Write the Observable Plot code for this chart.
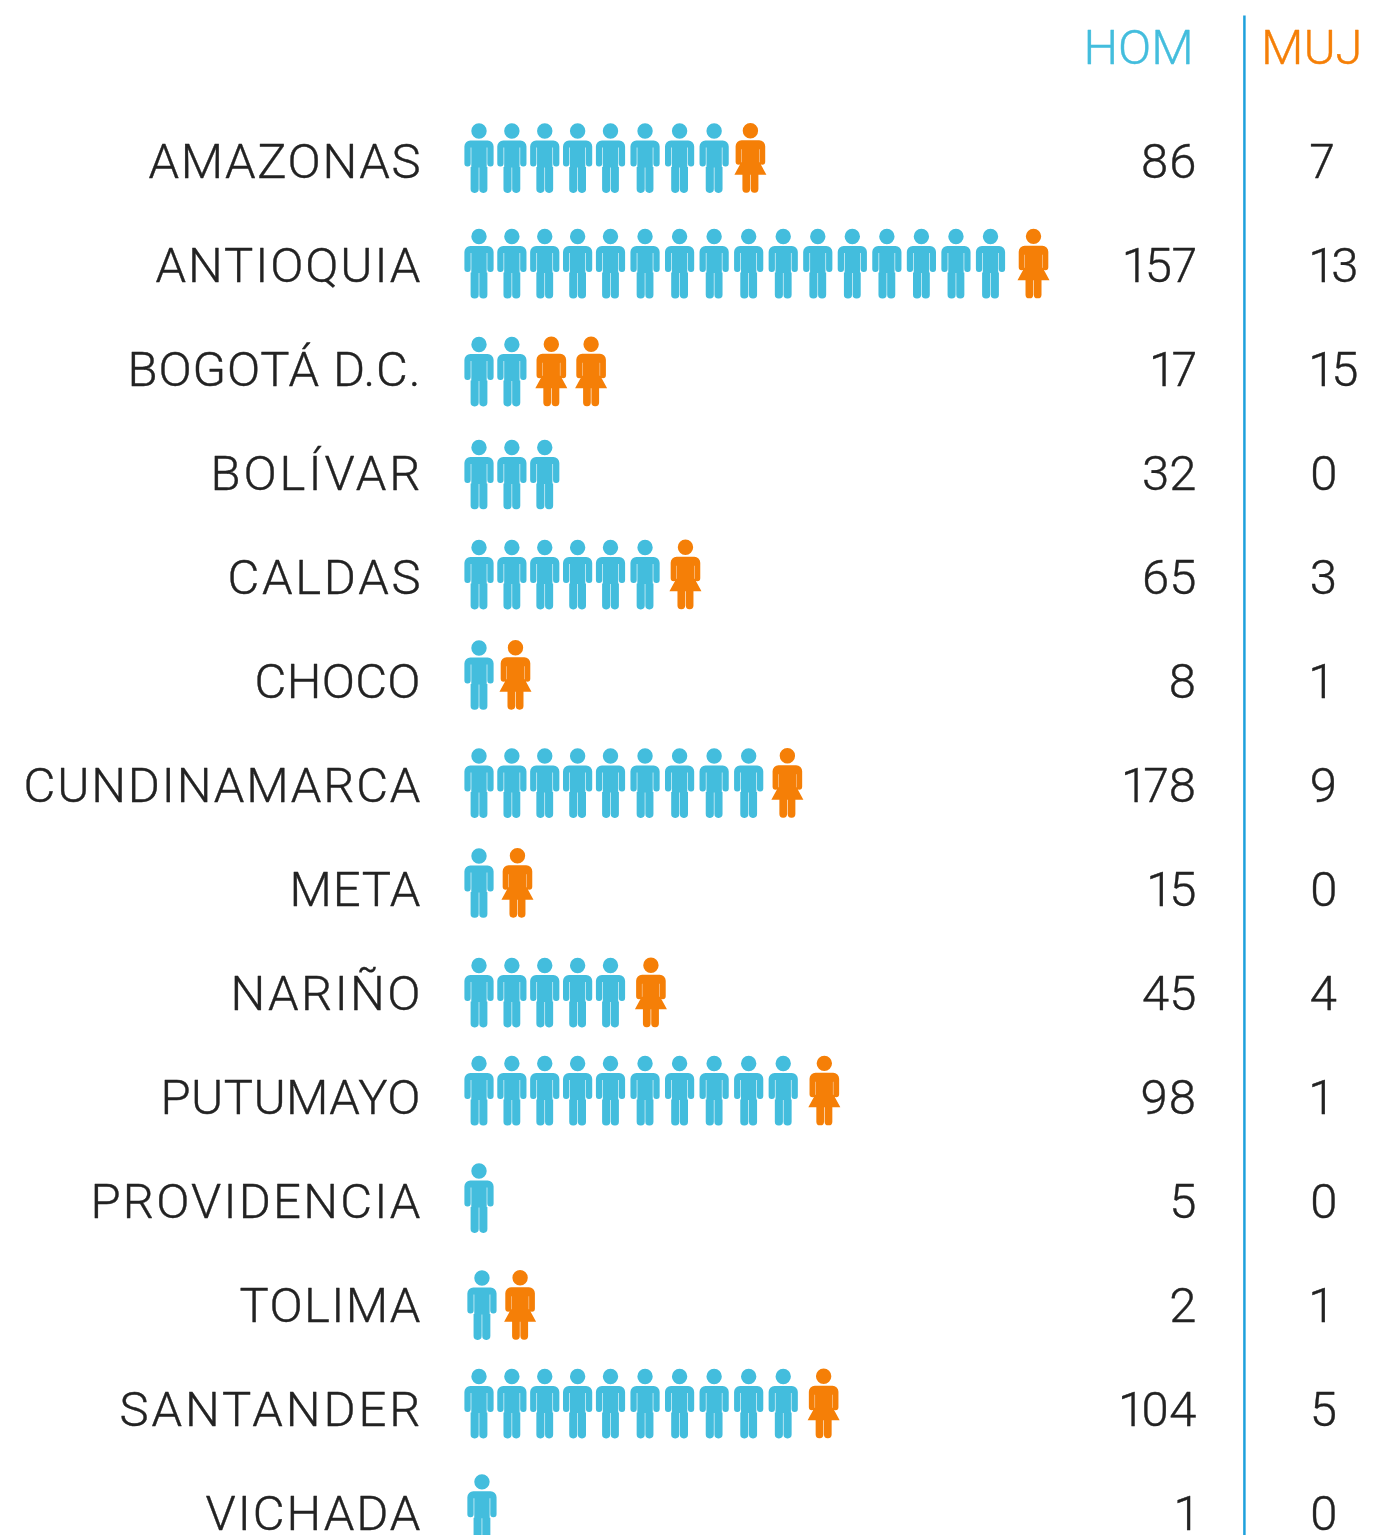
<!DOCTYPE html>
<html>
<head>
<meta charset="utf-8">
<style>html,body{margin:0;padding:0;background:#fff;overflow:hidden}svg{display:block}</style>
<script src="https://cdn.jsdelivr.net/npm/d3@7"></script>
<script src="https://cdn.jsdelivr.net/npm/@observablehq/plot@0.6"></script>
</head>
<body>
<div id="chart"></div>
<script>
const departments = ["AMAZONAS","ANTIOQUIA","BOGOTÁ D.C.","BOLÍVAR","CALDAS","CHOCO","CUNDINAMARCA","META","NARIÑO","PUTUMAYO","PROVIDENCIA","TOLIMA","SANTANDER","VICHADA"];
const hombres = [86,157,17,32,65,8,178,15,45,98,5,2,104,1];
const mujeres = [7,13,15,0,3,1,9,0,4,1,0,1,5,0];
const menIcons = [8,16,2,3,6,1,9,1,5,10,1,1,10,1];
const menShift = [0,0,0,0,0,0,0,0,0,0,0,0.09,0,0.09];
const womanSlots = [[8.05],[16.245],[2.2,3.41],[],[6.17],[1.11],[9.12],[1.17],[5.17],[10.19],[],[1.25],[10.17],[]];
const iconRows = [-0.029,0.986,2.024,3.014,3.976,4.942,5.981,6.942,7.995,8.938,9.971,11.0,11.947,12.96];
const labelWidths = [272,265,293,210,193,166,397,131,190,260,330,181,301,215];

const BLUE = "#43bddd", ORANGE = "#f57f07", INK = "#222222", RULE = "#1ea0dc";
const FONT = "Roboto, sans-serif";
const nameCol = -1.78, homCol = 20.96, mujCol = 24.24, ruleCol = 22.35;

function roundBox(c, x0, y0, x1, y1, rt, rb) {
  c.moveTo(x0 + rt, y0);
  c.lineTo(x1 - rt, y0);
  if (rt) c.arcTo(x1, y0, x1, y0 + rt, rt);
  c.lineTo(x1, y1 - rb);
  if (rb) c.arcTo(x1, y1, x1 - rb, y1, rb);
  c.lineTo(x0 + rb, y1);
  if (rb) c.arcTo(x0, y1, x0, y1 - rb, rb);
  c.lineTo(x0, y0 + rt);
  if (rt) c.arcTo(x0, y0, x0 + rt, y0, rt);
  c.closePath();
}
const manSymbol = {
  draw(c) {
    c.moveTo(7.7, -27.5); c.arc(0, -27.5, 7.7, 0, 2 * Math.PI); c.closePath();
    roundBox(c, -14.6, -18, 14.6, -11, 6, 0);
    roundBox(c, -14.6, -11.2, -8.3, 8, 0, 3);
    roundBox(c, 8.3, -11.2, 14.6, 8, 0, 3);
    roundBox(c, -7.7, -11.2, 7.7, 9, 0, 0);
    roundBox(c, -8.4, 8.5, -0.3, 34.4, 0, 3.8);
    roundBox(c, 0.3, 8.5, 8.4, 34.4, 0, 3.8);
  }
};
const womanSymbol = {
  draw(c) {
    c.moveTo(7.7, -27.5); c.arc(0, -27.5, 7.7, 0, 2 * Math.PI); c.closePath();
    roundBox(c, -14.8, -18, 14.8, -9, 6, 0);
    roundBox(c, -14.8, -9.2, -9, 6.5, 0, 3);
    roundBox(c, 9, -9.2, 14.8, 6.5, 0, 3);
    roundBox(c, -8.6, -9.2, 8.6, 8, 0, 0);
    c.moveTo(-9.2, 4); c.lineTo(9.2, 4); c.lineTo(16, 16.5); c.lineTo(-16, 16.5); c.closePath();
    roundBox(c, -8, 16, -0.3, 34.4, 0, 3.6);
    roundBox(c, 0.3, 16, 8, 34.4, 0, 3.6);
  }
};

const rows = departments.map((name, i) => ({name, row: i, hom: hombres[i], muj: mujeres[i]}));
const men = departments.flatMap((_, i) => d3.range(menIcons[i]).map(k => ({slot: k + menShift[i], row: iconRows[i]})));
const women = departments.flatMap((_, i) => womanSlots[i].map(slot => ({slot, row: iconRows[i] - 0.002})));

const textBase = {fontFamily: FONT, fontWeight: 300, fontSize: 49, lineAnchor: "middle", fill: INK, stroke: INK, strokeWidth: 0.4, dy: 1};
const numBase = {...textBase, fontVariant: "proportional-nums"};

const chart = Plot.plot({
  width: 1387, height: 1535,
  marginTop: 0, marginRight: 0, marginBottom: 0, marginLeft: 0,
  x: {type: "linear", domain: [0, 4, 15], range: [478.5, 610, 990], axis: null},
  y: {type: "linear", domain: [0, 13], range: [161, 1513], axis: null},
  marks: [
    Plot.ruleX([ruleCol], {y1: -1.4, y2: 13.5, stroke: RULE, strokeWidth: 2.5}),
    Plot.text(rows, {x: () => nameCol, y: "row", text: "name", textAnchor: "end", ...textBase, className: "names"}),
    Plot.text(rows, {x: () => homCol, y: "row", text: d => String(d.hom), textAnchor: "end", ...numBase}),
    Plot.text(rows, {x: () => mujCol, y: "row", text: d => String(d.muj), textAnchor: "start", ...numBase}),
    Plot.text(["HOM"], {x: () => 17.69, y: () => -1.1, text: d => d, textAnchor: "start", ...textBase, fill: BLUE, stroke: BLUE}),
    Plot.text(["MUJ"], {x: () => 22.83, y: () => -1.1, text: d => d, textAnchor: "start", ...textBase, fill: ORANGE, stroke: ORANGE}),
    Plot.dot(men, {x: "slot", y: "row", symbol: manSymbol, r: 10, fill: BLUE, stroke: "none"}),
    Plot.dot(women, {x: "slot", y: "row", symbol: womanSymbol, r: 10, fill: ORANGE, stroke: "none"})
  ]
});
d3.select(chart).selectAll(".names text").each(function () {
  const i = departments.indexOf(this.textContent);
  if (i >= 0) this.setAttribute("textLength", labelWidths[i]);
});
document.getElementById("chart").appendChild(chart);
</script>
</body>
</html>
